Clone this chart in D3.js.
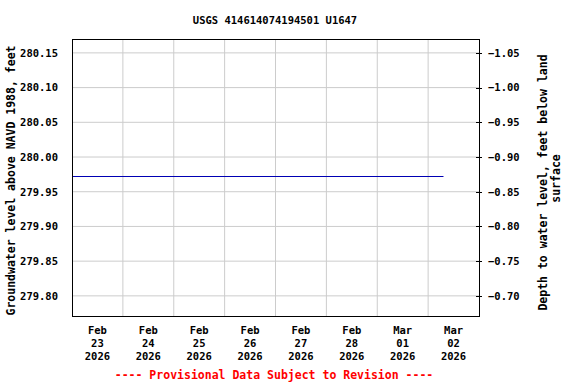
<!DOCTYPE html>
<html>
<head>
<meta charset="utf-8">
<script src="https://cdn.jsdelivr.net/npm/d3@7"></script>
<style>
  body { margin: 0; background: #fff; }
  svg text { font-family: "DejaVu Sans Mono", monospace; font-weight: bold; }
</style>
</head>
<body>
<div id="chart"></div>
<script>
const title = 'USGS 414614074194501 U1647';
const levelTicks = [279.80, 279.85, 279.90, 279.95, 280.00, 280.05, 280.10, 280.15];
const depthTicks = [-0.70, -0.75, -0.80, -0.85, -0.90, -0.95, -1.00, -1.05];
const dayTicks = ['2026-02-23', '2026-02-24', '2026-02-25', '2026-02-26', '2026-02-27', '2026-02-28', '2026-03-01', '2026-03-02'];
const obsTimes = ['2026-02-23T00:00', '2026-03-02T07:15'];
const obsLevels = [279.972, 279.972];
const landDatum = 279.10; // depth = landDatum - level

const width = 576, height = 384;
const margin = { top: 39, right: 97, bottom: 68, left: 72 };
const plotW = width - margin.left - margin.right;
const plotH = height - margin.top - margin.bottom;

const parseTime = d3.timeParse('%Y-%m-%dT%H:%M');
const parseDay = d3.timeParse('%Y-%m-%d');

const x = d3.scaleTime()
  .domain([parseDay('2026-02-23'), parseDay('2026-03-03')])
  .range([0, plotW]);
const y = d3.scaleLinear()
  .domain([279.771, 280.170])
  .range([plotH, 0]);
const yDepth = d3.scaleLinear()
  .domain([landDatum - 279.771, landDatum - 280.170])
  .range([plotH, 0]);

const svg = d3.select('#chart').append('svg')
  .attr('width', width)
  .attr('height', height);

svg.append('text')
  .attr('x', 275)
  .attr('y', 24)
  .attr('text-anchor', 'middle')
  .style('font-size', '10.5px')
  .text(title);

const g = svg.append('g')
  .attr('transform', `translate(${margin.left},${margin.top})`);

// grid
const days = dayTicks.map(parseDay);
g.append('g').selectAll('line.vg')
  .data(days.slice(1))
  .join('line')
  .attr('x1', d => x(d)).attr('x2', d => x(d))
  .attr('y1', 0).attr('y2', plotH)
  .attr('stroke', '#cccccc');
g.append('g').selectAll('line.hg')
  .data(levelTicks)
  .join('line')
  .attr('x1', 0).attr('x2', plotW)
  .attr('y1', d => y(d)).attr('y2', d => y(d))
  .attr('stroke', '#cccccc');

// data line
const data = obsTimes.map((t, i) => ({ t: parseTime(t), v: obsLevels[i] }));
g.append('path')
  .datum(data)
  .attr('fill', 'none')
  .attr('stroke', '#0000b4')
  .attr('stroke-width', 1)
  .attr('d', d3.line().x(d => x(d.t)).y(d => Math.round(y(d.v)) + 0.5));

// frame
g.append('rect')
  .attr('x', 0.5).attr('y', 0.5)
  .attr('width', plotW).attr('height', plotH)
  .attr('fill', 'none')
  .attr('stroke', '#000');

// left axis labels
g.append('g').selectAll('text')
  .data(levelTicks)
  .join('text')
  .attr('x', -14)
  .attr('y', d => y(d))
  .attr('dy', '0.36em')
  .attr('text-anchor', 'end')
  .style('font-size', '10.5px')
  .text(d => d.toFixed(2));

// right axis
const right = g.append('g').attr('transform', `translate(${plotW},0)`);
right.selectAll('line')
  .data(depthTicks)
  .join('line')
  .attr('x1', -3).attr('x2', 3)
  .attr('y1', d => Math.round(yDepth(d)) + 0.5)
  .attr('y2', d => Math.round(yDepth(d)) + 0.5)
  .attr('stroke', '#000');
right.selectAll('text')
  .data(depthTicks)
  .join('text')
  .attr('x', 9)
  .attr('y', d => yDepth(d))
  .attr('dy', '0.36em')
  .style('font-size', '10.5px')
  .text(d => d.toFixed(2).replace('-', '\u2212'));

// bottom date labels
const fmtMon = d3.timeFormat('%b'), fmtDay = d3.timeFormat('%d'), fmtYr = d3.timeFormat('%Y');
const bottom = g.append('g').attr('transform', `translate(0,${plotH})`);
const lbl = bottom.selectAll('text')
  .data(days)
  .join('text')
  .attr('x', d => x(d3.timeHour.offset(d, 12)))
  .attr('text-anchor', 'middle')
  .style('font-size', '10.5px');
lbl.append('tspan').attr('x', d => x(d3.timeHour.offset(d, 12))).attr('y', 18).text(fmtMon);
lbl.append('tspan').attr('x', d => x(d3.timeHour.offset(d, 12))).attr('y', 31).text(fmtDay);
lbl.append('tspan').attr('x', d => x(d3.timeHour.offset(d, 12))).attr('y', 44).text(fmtYr);

// axis titles
svg.append('text')
  .attr('transform', `translate(15,${margin.top + plotH / 2 + 3}) rotate(-90)`)
  .attr('text-anchor', 'middle')
  .style('font-size', '11.5px')
  .text('Groundwater level above NAVD 1988, feet');
svg.append('text')
  .attr('transform', `translate(547,${margin.top + plotH / 2 + 5}) rotate(-90)`)
  .attr('text-anchor', 'middle')
  .style('font-size', '11.5px')
  .text('Depth to water level, feet below land');
svg.append('text')
  .attr('transform', `translate(560,${margin.top + plotH / 2 + 1}) rotate(-90)`)
  .attr('text-anchor', 'middle')
  .style('font-size', '11.5px')
  .text('surface');

svg.append('text')
  .attr('x', 274)
  .attr('y', 379)
  .attr('text-anchor', 'middle')
  .attr('fill', '#ff0000')
  .style('font-size', '11.5px')
  .text('---- Provisional Data Subject to Revision ----');
</script>
</body>
</html>
